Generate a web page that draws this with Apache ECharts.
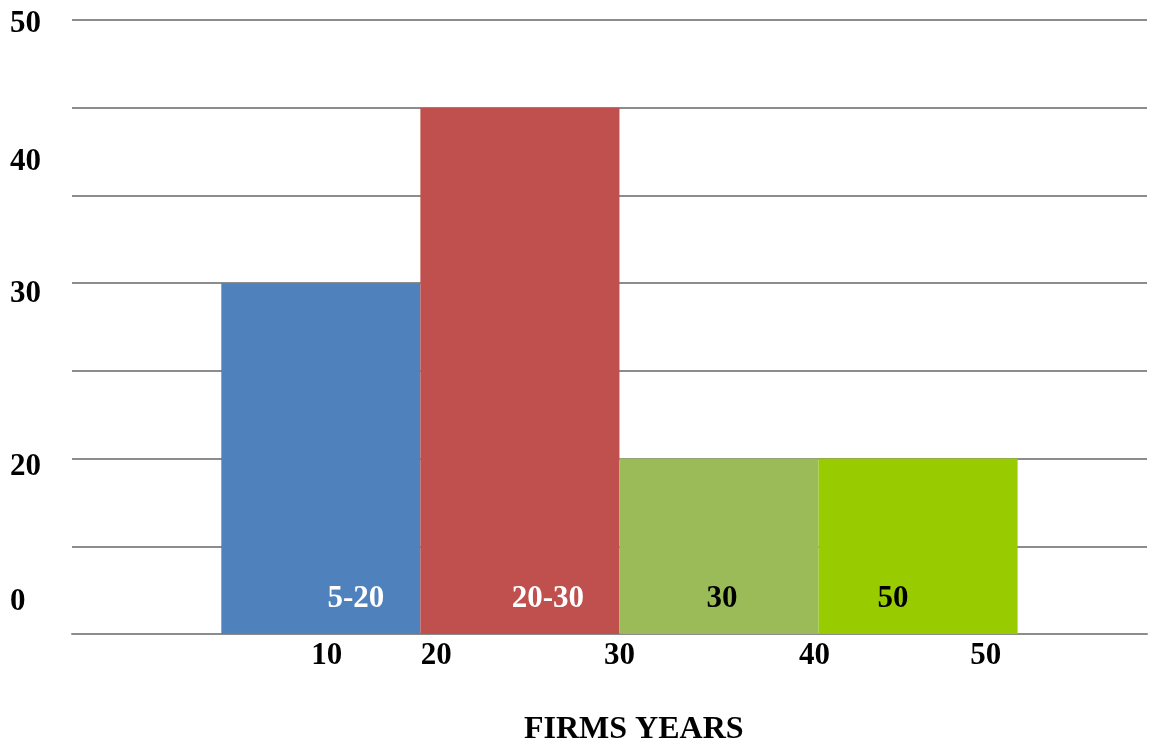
<!DOCTYPE html>
<html>
<head>
<meta charset="utf-8">
<title>FIRMS YEARS</title>
<script src="https://cdn.jsdelivr.net/npm/echarts@6/dist/echarts.min.js"></script>
<style>
  html, body { margin: 0; padding: 0; background: #ffffff; }
  #chart { width: 1157px; height: 742px; }
</style>
</head>
<body>
<div id="chart"></div>
<script>
// Class intervals (start, end) of firm age and the bar heights in grid units
const binStart = [10, 20, 30, 40];
const binEnd = [20, 30, 40, 50];
const binHeight = [20, 30, 10, 10];
const binLabels = ['5-20', '20-30', '30', '50'];
const binColors = ['#4F81BD', '#C0504D', '#9BBB59', '#99CC00'];
const binLabelColors = ['#ffffff', '#ffffff', '#000000', '#000000'];

// Tick labels and where they sit along each axis
const xTickText = ['10', '20', '30', '40', '50'];
const xTickAt = [15.3, 20.8, 30, 39.8, 48.4];
const yTickText = ['0', '20', '30', '40', '50'];
const yTickAt = [1.8, 9.5, 19.4, 26.9, 34.8];

const FONT = '"Liberation Serif", "Times New Roman", serif';

const chart = echarts.init(document.getElementById('chart'), null, { renderer: 'canvas' });

const bins = binStart.map((s, i) => [s, binEnd[i], binHeight[i], i]);
// horizontal nudge of each in-bar label
const labelShift = [35, 28, 3, -25];

chart.setOption({
  animation: false,
  backgroundColor: '#ffffff',
  title: {
    text: 'FIRMS YEARS',
    left: 519,
    top: 709,
    textStyle: { fontFamily: FONT, fontWeight: 'bold', fontSize: 32, color: '#000000' }
  },
  grid: { left: 72, right: 10, top: 20, bottom: 108 },
  xAxis: {
    type: 'value',
    min: 2.5,
    max: 56.5,
    axisLine: { show: true, lineStyle: { color: '#8c8c8c', width: 2 } },
    axisTick: { show: false },
    splitLine: { show: false },
    axisLabel: {
      customValues: xTickAt,
      margin: 6,
      fontFamily: FONT,
      fontWeight: 'bold',
      fontSize: 31,
      color: '#000000',
      formatter: (v) => {
        const i = xTickAt.indexOf(v);
        return i >= 0 ? xTickText[i] : '';
      }
    }
  },
  yAxis: {
    type: 'value',
    min: 0,
    max: 35,
    interval: 5,
    axisLine: { show: false },
    axisTick: { show: false },
    splitLine: { show: true, lineStyle: { color: '#8c8c8c', width: 2 } },
    axisLabel: {
      customValues: yTickAt,
      align: 'left',
      margin: 62,
      fontFamily: FONT,
      fontWeight: 'bold',
      fontSize: 31,
      color: '#000000',
      formatter: (v) => {
        const i = yTickAt.indexOf(v);
        return i >= 0 ? yTickText[i] : '';
      }
    }
  },
  series: [{
    type: 'custom',
    data: bins,
    encode: { x: [0, 1], y: 2 },
    renderItem: (params, api) => {
      const idx = api.value(3);
      const topLeft = api.coord([api.value(0), api.value(2)]);
      const bottomRight = api.coord([api.value(1), 0]);
      const w = bottomRight[0] - topLeft[0];
      const h = bottomRight[1] - topLeft[1];
      return {
        type: 'group',
        children: [
          {
            type: 'rect',
            shape: { x: topLeft[0], y: topLeft[1], width: w, height: h },
            style: { fill: binColors[idx] }
          },
          {
            type: 'text',
            x: topLeft[0] + w / 2 + labelShift[idx],
            y: bottomRight[1] - 35,
            style: {
              text: binLabels[idx],
              fill: binLabelColors[idx],
              font: 'bold 31px ' + FONT,
              align: 'center',
              verticalAlign: 'middle'
            }
          }
        ]
      };
    }
  }]
});
</script>
</body>
</html>
